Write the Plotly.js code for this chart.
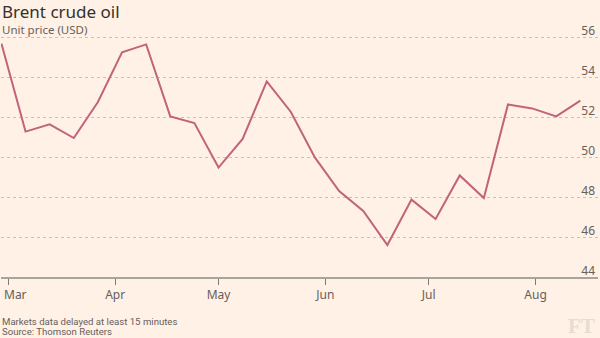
<!DOCTYPE html>
<html>
<head>
<meta charset="utf-8">
<script src="https://cdn.plot.ly/plotly-3.0.1.min.js"></script>
<style>
html,body{margin:0;padding:0;background:#fff1e5;}
#chart{width:600px;height:338px;}
</style>
</head>
<body>
<div id="chart"></div>
<script>
const dates = [
  '2017-02-27','2017-03-06','2017-03-13','2017-03-20','2017-03-27',
  '2017-04-03','2017-04-10','2017-04-17','2017-04-24','2017-05-01',
  '2017-05-08','2017-05-15','2017-05-22','2017-05-29','2017-06-05',
  '2017-06-12','2017-06-19','2017-06-26','2017-07-03','2017-07-10',
  '2017-07-17','2017-07-24','2017-07-31','2017-08-07','2017-08-14'
];
const prices = [
  55.67, 51.27, 51.63, 50.95, 52.75,
  55.23, 55.63, 52.03, 51.70, 49.47,
  50.90, 53.78, 52.25, 49.97, 48.30,
  47.30, 45.60, 47.87, 46.90, 49.08,
  47.95, 52.63, 52.43, 52.03, 52.82
];
const yTicks = [44, 46, 48, 50, 52, 54, 56];
const xTickDates = ['2017-03-01','2017-04-01','2017-05-01','2017-06-01','2017-07-01','2017-08-01'];
const xTickLabels = ['Mar','Apr','May','Jun','Jul','Aug'];

const trace = {
  x: dates, y: prices, type: 'scatter', mode: 'lines',
  line: {color: '#c1637a', width: 2},
  hoverinfo: 'skip'
};

// first tick label is drawn as an annotation, nudged right so it stays inside the page
const shownTickText = xTickLabels.map((t, i) => i === 0 ? '' : t);

const layout = {
  width: 600, height: 338,
  paper_bgcolor: '#fff1e5', plot_bgcolor: '#fff1e5',
  margin: {l: 1, r: 2, t: 26.7, b: 60.7},
  showlegend: false,
  font: {family: 'Noto Sans, sans-serif', color: '#66605c'},
  xaxis: {
    type: 'date',
    range: ['2017-02-26 21:00', '2017-08-19 03:00'],
    tickvals: xTickDates, ticktext: shownTickText,
    ticks: 'outside', ticklen: 6, tickwidth: 1, tickcolor: '#807973',
    ticklabeloverflow: 'allow',
    showgrid: false, showline: true, linecolor: '#a7a59b', linewidth: 1.5,
    tickfont: {size: 12, color: '#66605c'},
    zeroline: false, fixedrange: true
  },
  yaxis: {
    range: [44, 56.5],
    side: 'right',
    tickvals: yTicks, ticktext: yTicks.map(String),
    ticklabelposition: 'inside',
    ticklabeloverflow: 'allow',
    ticklabelshift: -6,
    ticklabelstandoff: 0,
    ticks: '',
    showgrid: true, gridcolor: '#c9c0b6', griddash: 'dot', gridwidth: 1,
    showline: false, zeroline: false,
    tickfont: {size: 12, color: '#66605c'},
    fixedrange: true
  },
  annotations: [
    {text: xTickLabels[0], xref: 'x', yref: 'paper', x: xTickDates[0], y: 0, xanchor: 'left', yanchor: 'middle',
     xshift: -6, yshift: -17, showarrow: false, font: {size: 12, color: '#66605c', family: 'Noto Sans, sans-serif'}},
    {text: 'Brent crude oil', xref: 'paper', yref: 'paper', x: 0, y: 1, xanchor: 'left', yanchor: 'top',
     xshift: -1, yshift: 28.7, showarrow: false, font: {size: 17, color: '#33302e', family: 'Noto Sans, sans-serif'}},
    {text: 'Unit price (USD)', xref: 'paper', yref: 'paper', x: 0, y: 1, xanchor: 'left', yanchor: 'top',
     xshift: -1, yshift: 7, showarrow: false, font: {size: 11.5, color: '#66605c', family: 'Noto Sans, sans-serif'}},
    {text: 'Markets data delayed at least 15 minutes', xref: 'paper', yref: 'paper',
     x: 0, y: 0, xanchor: 'left', yanchor: 'middle', align: 'left', xshift: -1, yshift: -44,
     showarrow: false, font: {size: 9.6, color: '#66605c', family: 'Liberation Sans Narrow, Roboto, sans-serif'}},
    {text: 'Source: Thomson Reuters', xref: 'paper', yref: 'paper',
     x: 0, y: 0, xanchor: 'left', yanchor: 'middle', align: 'left', xshift: -1, yshift: -54.5,
     showarrow: false, font: {size: 9.6, color: '#66605c', family: 'Liberation Sans Narrow, Roboto, sans-serif'}},
    {text: '<b>FT</b>', xref: 'paper', yref: 'paper', x: 1, y: 0, xanchor: 'right', yanchor: 'middle',
     xshift: -1, yshift: -49, showarrow: false, font: {size: 21, color: '#e6dcd2', family: 'Liberation Serif, DejaVu Serif, serif'}}
  ]
};

Plotly.newPlot('chart', [trace], layout, {displayModeBar: false, staticPlot: true});
</script>
</body>
</html>
